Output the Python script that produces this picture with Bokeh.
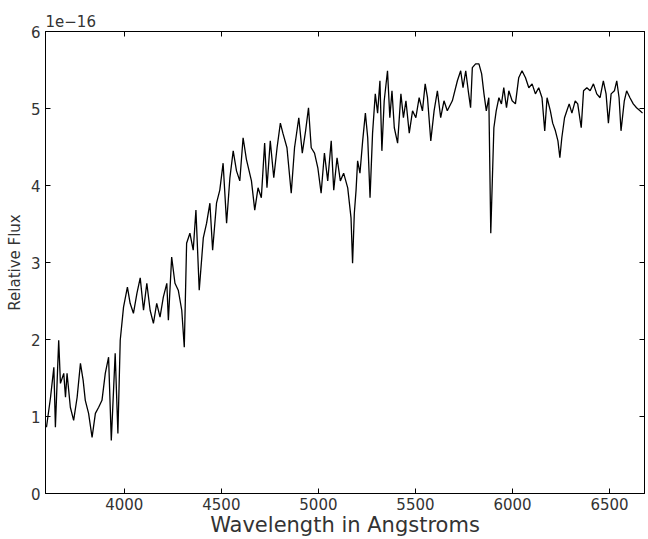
from bokeh.plotting import figure
from bokeh.models import LinearAxis, FixedTicker, Range1d, CustomLabelingPolicy
from bokeh.embed import file_html
from bokeh.resources import INLINE

# Wavelength (Angstrom) and relative flux (units of 1e-16)
wavelength = [
    3599, 3620, 3637, 3645, 3662, 3671, 3688, 3697, 3705, 3722, 3739, 3757, 3774, 3788,
    3799, 3816, 3834, 3851, 3868, 3885, 3902, 3919, 3933, 3953, 3967, 3979, 3996, 4016,
    4030, 4047, 4065, 4082, 4099, 4116, 4133, 4150, 4167, 4184, 4201, 4219, 4227, 4244,
    4261, 4278, 4296, 4309, 4321, 4338, 4355, 4369, 4386, 4407, 4424, 4441, 4455, 4475,
    4492, 4509, 4527, 4544, 4561, 4578, 4595, 4612, 4629, 4655, 4672, 4689, 4706, 4723,
    4735, 4752, 4770, 4787, 4804, 4817, 4838, 4860, 4877, 4899, 4917, 4934, 4949, 4963,
    4980, 4997, 5014, 5031, 5048, 5066, 5079, 5096, 5113, 5130, 5151, 5168, 5176, 5185,
    5194, 5202, 5214, 5228, 5242, 5254, 5266, 5279, 5293, 5305, 5317, 5327, 5339, 5356,
    5368, 5379, 5391, 5408, 5425, 5438, 5451, 5468, 5485, 5502, 5519, 5536, 5550, 5562,
    5579, 5596, 5613, 5630, 5647, 5664, 5690, 5716, 5733, 5745, 5759, 5772, 5784, 5793,
    5810, 5827, 5841, 5853, 5865, 5878, 5888, 5904, 5916, 5930, 5943, 5955, 5969, 5981,
    5998, 6015, 6032, 6049, 6067, 6084, 6101, 6118, 6135, 6152, 6166, 6178, 6195, 6207,
    6221, 6234, 6244, 6254, 6268, 6280, 6292, 6306, 6323, 6336, 6354, 6366, 6383, 6400,
    6417, 6434, 6451, 6468, 6482, 6494, 6508, 6525, 6537, 6549, 6559, 6576, 6588, 6605,
    6622, 6639, 6657, 6670,
]
flux = [
    0.86, 1.25, 1.64, 0.86, 1.99, 1.43, 1.56, 1.25, 1.56, 1.12, 0.95, 1.25, 1.69, 1.47,
    1.21, 1.04, 0.73, 1.04, 1.12, 1.21, 1.56, 1.77, 0.69, 1.82, 0.78, 1.99, 2.42, 2.68,
    2.47, 2.34, 2.60, 2.80, 2.38, 2.73, 2.38, 2.21, 2.47, 2.29, 2.55, 2.73, 2.25, 3.07,
    2.73, 2.64, 2.38, 1.90, 3.25, 3.38, 3.16, 3.68, 2.64, 3.32, 3.51, 3.77, 3.16, 3.77,
    3.94, 4.29, 3.51, 4.10, 4.45, 4.19, 4.06, 4.62, 4.34, 4.06, 3.68, 3.97, 3.84, 4.55,
    3.97, 4.58, 4.10, 4.49, 4.81, 4.68, 4.49, 3.90, 4.49, 4.88, 4.42, 4.71, 5.01, 4.49,
    4.42, 4.23, 3.90, 4.42, 4.06, 4.58, 3.94, 4.36, 4.06, 4.16, 3.97, 3.58, 2.99, 3.64,
    3.94, 4.32, 4.16, 4.58, 4.94, 4.62, 3.84, 4.68, 5.19, 4.94, 5.36, 4.45, 5.10, 5.49,
    4.88, 5.23, 4.75, 4.55, 5.19, 4.88, 5.10, 4.68, 4.97, 4.88, 5.14, 4.97, 5.32, 5.14,
    4.58, 4.97, 5.23, 4.88, 5.10, 4.97, 5.10, 5.36, 5.49, 5.27, 5.49, 5.23, 5.01, 5.53,
    5.58, 5.58, 5.45, 5.19, 4.97, 5.14, 3.38, 4.75, 4.97, 5.14, 5.06, 5.27, 5.01, 5.23,
    5.10, 5.06, 5.40, 5.49, 5.40, 5.27, 5.32, 5.19, 5.27, 5.14, 4.71, 5.14, 4.97, 4.81,
    4.71, 4.58, 4.36, 4.62, 4.88, 4.97, 5.06, 4.94, 5.10, 5.06, 4.75, 5.23, 5.27, 5.23,
    5.32, 5.19, 5.14, 5.36, 5.19, 4.81, 5.19, 5.23, 5.36, 5.14, 4.71, 5.10, 5.23, 5.14,
    5.06, 5.01, 4.97, 4.94,
]
x_ticks = [4000, 4500, 5000, 5500, 6000, 6500]
y_ticks = [0, 1, 2, 3, 4, 5, 6]
x_title = "Wavelength in Angstroms"
y_title = "Relative Flux"
offset_text = "1e\u221216"

FONT = "DejaVu Sans"
TXT = "#333333"

p = figure(width=648, height=539, output_backend="svg", toolbar_location=None,
           x_range=Range1d(3594, 6680), y_range=Range1d(0, 6),
           min_border_left=45, min_border_right=0, min_border_top=31, min_border_bottom=46)
p.background_fill_color = "white"
p.border_fill_color = "white"
p.outline_line_color = "black"
p.outline_line_width = 1
p.grid.visible = False

p.title.text = offset_text
p.title.align = "left"
p.title.text_font = FONT
p.title.text_font_size = "15px"
p.title.text_font_style = "normal"
p.title.text_color = TXT
p.title.offset = 0
p.title.standoff = 1

p.line(wavelength, flux, line_color="black", line_width=1.3)

for ax in (p.xaxis[0], p.yaxis[0]):
    ax.major_tick_in = 5
    ax.major_tick_out = 0
    ax.minor_tick_in = 0
    ax.minor_tick_out = 0
    ax.axis_line_color = "black"
    ax.major_tick_line_color = "black"
    ax.major_label_text_font = FONT
    ax.major_label_text_font_size = "15px"
    ax.major_label_text_color = TXT
    ax.axis_label_text_font = FONT
    ax.axis_label_text_font_style = "normal"
    ax.axis_label_text_color = TXT

p.xaxis[0].ticker = FixedTicker(ticks=x_ticks)
p.yaxis[0].ticker = FixedTicker(ticks=y_ticks)
p.xaxis[0].axis_label = x_title
p.xaxis[0].axis_label_text_font_size = "21px"
p.xaxis[0].axis_label_standoff = 0
p.xaxis[0].major_label_standoff = 4
p.yaxis[0].axis_label = y_title
p.yaxis[0].axis_label_text_font_size = "15px"
p.yaxis[0].axis_label_standoff = 4
p.yaxis[0].major_label_standoff = 5

hide_all = CustomLabelingPolicy(code="for (const i of indices) { indices.unset(i) } return indices")
for side, ticks in (("above", x_ticks), ("right", y_ticks)):
    ax = LinearAxis(ticker=FixedTicker(ticks=ticks), major_label_policy=hide_all,
                    major_label_text_font_size="1px",
                    major_tick_in=5, major_tick_out=0, minor_tick_in=0, minor_tick_out=0,
                    axis_line_color="black", major_tick_line_color="black",
                    major_label_standoff=0)
    p.add_layout(ax, side)

open("out.html", "w").write(file_html(p, INLINE))
